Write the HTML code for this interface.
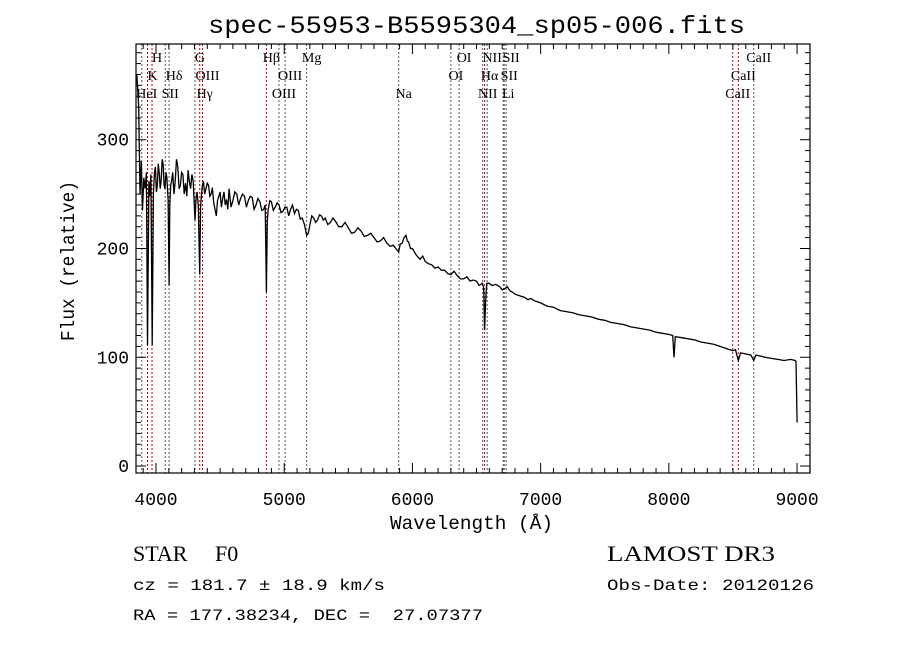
<!DOCTYPE html>
<html><head><meta charset="utf-8"><style>
html,body{margin:0;padding:0;background:#fff;width:900px;height:649px;overflow:hidden}
svg{display:block}
text{font-family:"Liberation Mono",monospace;fill:#000}
.ser{font-family:"Liberation Serif",serif}
</style></head><body>
<svg id="chart" width="900" height="649" viewBox="0 0 900 649" xmlns="http://www.w3.org/2000/svg">
<rect x="0" y="0" width="900" height="649" fill="#fff"/>
<g id="lines"></g>
<g id="labels"></g>
<path id="spec" fill="none" stroke="#000" stroke-width="1.3"/>
<rect x="136" y="44" width="674" height="429" fill="none" stroke="#000" stroke-width="1.2"/>
<g id="ticks" stroke="#000" stroke-width="1"></g>
<g id="ticklabels"></g>
<text x="208" y="33" font-size="25" textLength="537" lengthAdjust="spacingAndGlyphs">spec-55953-B5595304_sp05-006.fits</text>
<text x="390" y="529" font-size="19" textLength="163" lengthAdjust="spacingAndGlyphs">Wavelength (Å)</text>
<text transform="translate(74,341) rotate(-90)" font-size="19" textLength="160" lengthAdjust="spacingAndGlyphs">Flux (relative)</text>
<text class="ser" x="133" y="561" font-size="22">STAR</text>
<text class="ser" x="215" y="561" font-size="22">F0</text>
<text x="133" y="590" font-size="16" textLength="252" lengthAdjust="spacingAndGlyphs">cz = 181.7 ± 18.9 km/s</text>
<text x="133" y="620" font-size="16" textLength="350" lengthAdjust="spacingAndGlyphs" xml:space="preserve">RA = 177.38234, DEC =  27.07377</text>
<text class="ser" x="607" y="561" font-size="22" textLength="168" lengthAdjust="spacingAndGlyphs">LAMOST DR3</text>
<text x="607" y="590" font-size="16" textLength="207" lengthAdjust="spacingAndGlyphs">Obs-Date: 20120126</text>
</svg>
<script>
const wavelengths=[3850,3858,3865,3875,3885,3895,3905,3915,3925,3934,3945,3952,3960,3970,3980,3988,3995,4003,4010,4018,4025,4033,4040,4048,4055,4063,4070,4078,4085,4094,4102,4108,4115,4122,4130,4140,4150,4160,4170,4180,4190,4200,4210,4220,4230,4240,4250,4260,4270,4280,4290,4304,4312,4320,4330,4341,4348,4355,4362,4370,4380,4390,4400,4410,4420,4430,4440,4450,4460,4470,4480,4490,4500,4510,4520,4530,4540,4550,4560,4570,4585,4600,4615,4630,4645,4660,4675,4690,4705,4720,4735,4750,4765,4780,4795,4810,4825,4840,4852,4861,4868,4875,4888,4900,4915,4930,4945,4960,4975,4990,5005,5020,5035,5050,5065,5080,5095,5110,5125,5140,5158,5175,5188,5200,5215,5230,5245,5260,5275,5290,5305,5320,5340,5360,5380,5400,5425,5450,5475,5500,5525,5550,5575,5600,5625,5650,5675,5700,5725,5750,5775,5800,5825,5850,5870,5893,5905,5920,5935,5950,5960,5970,5985,6000,6015,6030,6045,6060,6080,6100,6125,6150,6175,6200,6225,6250,6275,6300,6325,6350,6375,6400,6425,6450,6475,6500,6520,6545,6556,6563,6570,6580,6600,6620,6650,6680,6700,6720,6740,6760,6780,6800,6825,6850,6875,6900,6925,6950,6975,7000,7050,7100,7150,7200,7250,7300,7350,7400,7450,7500,7550,7600,7650,7700,7750,7800,7850,7900,7950,8000,8030,8040,8050,8100,8150,8200,8250,8300,8350,8400,8450,8500,8520,8542,8560,8600,8640,8662,8680,8720,8750,8800,8850,8900,8950,8985,8992,9000];
const fluxes=[360,345,330,250,280,235,265,255,270,111,262,248,268,111,250,270,275,252,258,278,270,255,262,282,278,258,255,270,265,245,166,240,258,262,270,250,262,282,275,255,258,270,268,250,260,248,272,262,255,268,262,226,245,252,240,176,238,250,258,262,250,255,260,258,248,250,256,242,236,230,244,248,252,238,246,252,240,245,236,255,238,244,252,250,240,246,250,248,238,244,248,247,236,240,246,243,235,236,240,160,225,236,244,243,235,238,242,240,233,234,238,238,230,236,240,232,236,235,227,228,222,212,214,222,230,228,224,226,231,230,226,228,222,224,228,225,220,220,224,219,214,215,219,216,211,212,214,210,206,207,210,205,202,203,200,197,204,205,210,212,207,206,200,200,197,194,192,190,193,188,186,185,182,183,180,180,177,176,179,175,172,172,174,170,171,170,166,168,164,125,150,168,168,166,167,165,162,163,165,161,160,158,157,156,155,153,154,152,151,150,147,146,143,142,141,139,138,137,135,134,132,131,130,128,127,126,125,123,122,121,120,100,119,118,117,116,114,113,112,110,108,106,107,97,104,103,102,97,102,101,100,99,98,97,98,97,96,40,5];
const lineNames=["HeI","K","H","Hδ","SII","G","Hγ","OIII","Hβ","OIII","OIII","Mg","Na","OI","OI","NII","Hα","NII","Li","SII","SII","CaII","CaII","CaII"];
const lineWaves=[3889,3934,3969,4102,4072,4304,4341,4363,4861,4959,5007,5175,5893,6300,6364,6548,6563,6583,6708,6716,6731,8498,8542,8662];
const lineRows=[3,2,1,2,3,1,3,2,1,3,2,1,3,2,1,3,2,1,3,2,1,3,2,1];
const redLines=[0,1,1,0,0,0,1,1,1,0,0,0,0,0,0,0,1,0,0,0,0,1,1,0];
const xTicks=[4000,5000,6000,7000,8000,9000];
const yTicks=[0,100,200,300];

const X0=136,X1=810,Y0=44,Y1=473,WMIN=3844,WMAX=9101,FMIN=-6.4,FMAX=388;
const xs=w=>X0+(w-WMIN)/(WMAX-WMIN)*(X1-X0);
const ys=f=>Y1-(f-FMIN)/(FMAX-FMIN)*(Y1-Y0);
const NS="http://www.w3.org/2000/svg";
function mk(tag,attrs,parent){const e=document.createElementNS(NS,tag);for(const k in attrs)e.setAttribute(k,attrs[k]);parent.appendChild(e);return e;}

let d="";
for(let i=0;i<wavelengths.length;i++){
  const x=xs(wavelengths[i]).toFixed(1);
  const y=ys(fluxes[i]).toFixed(1);
  d+=(i?"L":"M")+x+" "+y;
}
document.getElementById('spec').setAttribute('d',d);

const gl=document.getElementById('lines'),glab=document.getElementById('labels');
const rowY=[0,62,80,98];
for(let i=0;i<lineWaves.length;i++){
  const x=xs(lineWaves[i]);
  const ln=mk('line',{x1:x,x2:x,y1:Y0,y2:Y1,stroke:redLines[i]?'#c00000':'#555','stroke-width':1,'stroke-dasharray':'2,2'},gl);
  
  
  const t=mk('text',{x:x+5,y:rowY[lineRows[i]],'font-size':14,'text-anchor':'middle',class:'ser'},glab);
  t.textContent=lineNames[i];
  
  
}

const gt=document.getElementById('ticks'),gtl=document.getElementById('ticklabels');
for(let w=3900;w<=9100;w+=100){
  const x=xs(w),L=(w%1000===0)?10:5;
  mk('line',{x1:x,x2:x,y1:Y1,y2:Y1-L},gt);
  mk('line',{x1:x,x2:x,y1:Y0,y2:Y0+L},gt);
}
for(let f=0;f<=380;f+=10){
  const y=ys(f),L=(f%100===0)?10:5;
  mk('line',{x1:X0,x2:X0+L,y1:y,y2:y},gt);
  mk('line',{x1:X1,x2:X1-L,y1:y,y2:y},gt);
}
xTicks.forEach(w=>{
  const t=mk('text',{x:xs(w),y:505,'font-size':18,'text-anchor':'middle'},gtl);
  t.textContent=String(w);
  
  
});
yTicks.forEach(f=>{
  const t=mk('text',{x:129,y:ys(f)+6,'font-size':18,'text-anchor':'end'},gtl);
  t.textContent=String(f);
  
  
});
</script>
</body></html>
